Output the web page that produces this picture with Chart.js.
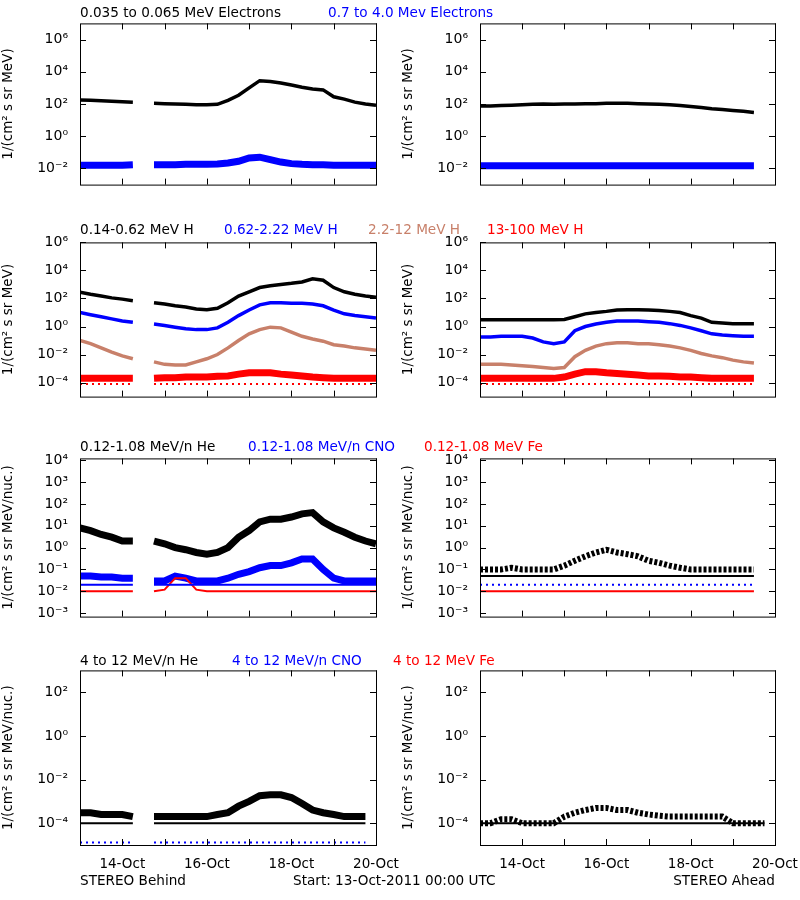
<!DOCTYPE html>
<html><head><meta charset="utf-8">
<script src="https://cdn.jsdelivr.net/npm/chart.js@4.4.0/dist/chart.umd.min.js"></script>
<style>
body{margin:0;background:#fff;width:800px;height:900px;position:relative;overflow:hidden;font-family:"DejaVu Sans",sans-serif;}
canvas{position:absolute;}
.t{position:absolute;font-size:13.6px;white-space:nowrap;}
</style></head><body>
<script>
// ---------- DATA (values every 6 hours from 13-Oct 00:00, 29 points) ----------
const HOURS = [0,6,12,18,24,30,36,42,48,54,60,66,72,78,84,90,96,102,108,114,120,126,132,138,144,150,156,162,168];
const DAY_TICKS = [24,48,72,96,120,144,168];
const DAY_LABELS = {24:"14-Oct",72:"16-Oct",120:"18-Oct",168:"20-Oct"};

// Row 1: electrons
const eLowB  = [180,170,160,150,140,130,null,110,105,100,95,90,90,95,170,350,1000,2800,2500,2000,1500,1100,850,750,280,200,130,100,85];
const eHighB = [0.016,0.016,0.016,0.016,0.016,0.017,null,0.017,0.017,0.017,0.018,0.018,0.018,0.019,0.022,0.028,0.045,0.05,0.035,0.025,0.02,0.018,0.017,0.017,0.016,0.016,0.016,0.016,0.016];
const eLowA  = [75,75,80,85,90,95,100,95,100,100,105,105,110,110,110,105,100,95,90,80,70,60,50,45,40,35,30,null,28];
const eHighA = [0.015,0.015,0.015,0.015,0.015,0.015,0.015,0.015,0.015,0.015,0.015,0.015,0.015,0.015,0.015,0.015,0.015,0.015,0.015,0.015,0.015,0.015,0.015,0.015,0.015,0.015,0.015,null,0.015];

// Row 2: protons
const h1B = [280,200,150,110,90,70,null,50,40,30,25,18,16,20,50,150,300,600,800,1000,1200,1500,2500,2000,600,300,200,150,120];
const h2B = [10,7,5,3.5,2.5,2,null,1.5,1.2,0.9,0.7,0.6,0.6,0.8,2,6,15,35,50,50,45,45,40,30,15,8,6,5,4];
const h3B = [0.1,0.06,0.03,0.015,0.008,0.005,null,0.003,0.002,0.0018,0.0018,0.003,0.005,0.01,0.03,0.1,0.3,0.6,0.9,0.8,0.4,0.2,0.13,0.09,0.05,0.04,0.03,0.025,0.02];
const h4B = [2e-4,2e-4,2e-4,2e-4,2e-4,2e-4,null,2e-4,2.2e-4,2.2e-4,2.5e-4,2.5e-4,2.5e-4,2.8e-4,3e-4,4e-4,5e-4,5e-4,5e-4,4e-4,3.5e-4,3e-4,2.5e-4,2.2e-4,2e-4,2e-4,2e-4,2e-4,2e-4];
const h4Blow = [8e-5,8e-5,8e-5,8e-5,8e-5,8e-5,null,8e-5,8e-5,8e-5,8e-5,8e-5,8e-5,8e-5,8e-5,8e-5,8e-5,8e-5,8e-5,8e-5,8e-5,8e-5,8e-5,8e-5,8e-5,8e-5,8e-5,8e-5,8e-5];
const h1A = [3,3,3,3,3,3,3,3,3.2,5,8,10,12,15,16,16,15,14,12,10,6,4,2,1.8,1.6,1.6,1.6,null,1.6];
const h2A = [0.18,0.18,0.2,0.2,0.2,0.15,0.08,0.06,0.08,0.5,1,1.5,2,2.5,2.5,2.5,2.2,2,1.6,1.2,0.8,0.5,0.3,0.25,0.22,0.2,0.2,null,0.18];
const h3A = [0.002,0.002,0.002,0.0018,0.0016,0.0014,0.0012,0.001,0.0012,0.007,0.02,0.04,0.06,0.07,0.07,0.06,0.06,0.05,0.04,0.03,0.02,0.012,0.008,0.006,0.004,0.003,0.0025,null,0.0022];
const h4A = [2e-4,2e-4,2e-4,2e-4,2e-4,2e-4,2e-4,2e-4,2.5e-4,4e-4,6e-4,6e-4,5e-4,4.5e-4,4e-4,3.5e-4,3e-4,3e-4,2.8e-4,2.5e-4,2.5e-4,2.2e-4,2e-4,2e-4,2e-4,2e-4,2e-4,null,2e-4];
const h4Alow = [8e-5,8e-5,8e-5,8e-5,8e-5,8e-5,8e-5,8e-5,8e-5,8e-5,8e-5,8e-5,8e-5,8e-5,8e-5,8e-5,8e-5,8e-5,8e-5,8e-5,8e-5,8e-5,8e-5,8e-5,8e-5,8e-5,8e-5,null,8e-5];

// Row 3: low-energy ions
const heB  = [8,6,4,3,2,2,null,2,1.5,1,0.8,0.6,0.5,0.6,1,3,6,15,20,20,25,35,40,15,8,5,3,2,1.5];
const cnoB = [0.05,0.05,0.045,0.045,0.04,0.04,null,0.03,0.03,0.05,0.04,0.03,0.03,0.03,0.04,0.06,0.08,0.12,0.15,0.15,0.2,0.3,0.3,0.1,0.04,0.03,0.03,0.03,0.03];
const cnoBrow = [0.02,0.02,0.02,0.02,0.02,0.02,null,0.02,0.02,0.02,0.02,0.02,0.02,0.02,0.02,0.02,0.02,0.02,0.02,0.02,0.02,0.02,0.02,0.02,0.02,0.02,0.02,0.02,0.02];
const feB  = [0.01,0.01,0.01,0.01,0.01,0.01,null,0.01,0.012,0.04,0.04,0.012,0.01,0.01,0.01,0.01,0.01,0.01,0.01,0.01,0.01,0.01,0.01,0.01,0.01,0.01,0.01,0.01,0.01];
const heA  = [0.1,0.1,0.1,0.12,0.1,0.1,0.1,0.1,0.15,0.25,0.4,0.6,0.8,0.6,0.5,0.4,0.25,0.2,0.15,0.12,0.1,0.1,0.1,0.1,0.1,0.1,0.1,null,0.1];
const heArow = [0.05,0.05,0.05,0.05,0.05,0.05,0.05,0.05,0.05,0.05,0.05,0.05,0.05,0.05,0.05,0.05,0.05,0.05,0.05,0.05,0.05,0.05,0.05,0.05,0.05,0.05,0.05,null,0.05];
const cnoArow = [0.02,0.02,0.02,0.02,0.02,0.02,0.02,0.02,0.02,0.02,0.02,0.02,0.02,0.02,0.02,0.02,0.02,0.02,0.02,0.02,0.02,0.02,0.02,0.02,0.02,0.02,0.02,null,0.02];
const feA  = [0.01,0.01,0.01,0.01,0.01,0.01,0.01,0.01,0.01,0.01,0.01,0.01,0.01,0.01,0.01,0.01,0.01,0.01,0.01,0.01,0.01,0.01,0.01,0.01,0.01,0.01,0.01,null,0.01];

// Row 4: high-energy ions
const he4B = [3e-4,3e-4,2.5e-4,2.5e-4,2.5e-4,2e-4,null,2e-4,2e-4,2e-4,2e-4,2e-4,2e-4,2.5e-4,3e-4,6e-4,1e-3,1.8e-3,2e-3,2e-3,1.5e-3,8e-4,4e-4,3e-4,2.5e-4,2e-4,2e-4,2e-4,null];
const he4Brow = [1e-4,1e-4,1e-4,1e-4,1e-4,1e-4,null,1e-4,1e-4,1e-4,1e-4,1e-4,1e-4,1e-4,1e-4,1e-4,1e-4,1e-4,1e-4,1e-4,1e-4,1e-4,1e-4,1e-4,1e-4,1e-4,1e-4,1e-4,null];
const cno4B = [1.3e-5,1.3e-5,1.3e-5,1.3e-5,1.3e-5,1.3e-5,null,1.3e-5,1.3e-5,1.3e-5,1.3e-5,1.3e-5,1.3e-5,1.3e-5,1.3e-5,1.3e-5,1.3e-5,1.3e-5,1.3e-5,1.3e-5,1.3e-5,1.3e-5,1.3e-5,1.3e-5,1.3e-5,1.3e-5,1.3e-5,1.3e-5,null];
const he4A = [1e-4,1e-4,1.5e-4,1.5e-4,1e-4,1e-4,1e-4,1e-4,2e-4,3e-4,4e-4,5e-4,5e-4,4e-4,4e-4,3e-4,2.5e-4,2.2e-4,2e-4,2e-4,2e-4,2e-4,2e-4,2e-4,1e-4,1e-4,1e-4,1e-4,null];
const he4Arow = [1e-4,1e-4,1e-4,1e-4,1e-4,1e-4,1e-4,1e-4,1e-4,1e-4,1e-4,1e-4,1e-4,1e-4,1e-4,1e-4,1e-4,1e-4,1e-4,1e-4,1e-4,1e-4,1e-4,1e-4,1e-4,1e-4,1e-4,1e-4,null];

// ---------- rendering ----------
const BLACK="#000", BLUE="#0000ff", BROWN="#c8806a", RED="#ff0000";
const FONT = {family:"'DejaVu Sans', sans-serif", size:12};
const sup = s => String(s).replace(/-/g,"⁻").replace(/\d/g,d=>"⁰¹²³⁴⁵⁶⁷⁸⁹"[d]);

function ser(vals,color,kind){
  const base={data:HOURS.map((h,i)=>({x:h,y:vals[i]})),borderColor:color,backgroundColor:color,pointRadius:0,spanGaps:false,tension:0};
  if(kind==='line') return {...base,borderWidth:3.5};
  if(kind==='band') return {...base,borderWidth:7};
  if(kind==='row') return {...base,borderWidth:2};
  if(kind==='dash') return {...base,borderWidth:2,borderDash:[2,4]};
  if(kind==='cloud') return {...base,borderWidth:6,borderDash:[3,2]};
  return base;
}

const frame = {id:'frame',afterDraw(c){
  const {ctx,chartArea:a}=c; ctx.save(); ctx.strokeStyle='#000'; ctx.lineWidth=1;
  ctx.strokeRect(a.left+0.5,a.top+0.5,a.right-a.left,a.bottom-a.top);
  ctx.beginPath();
  for(const t of c.scales.y.ticks){const y=Math.round(c.scales.y.getPixelForValue(t.value))+0.5;
    ctx.moveTo(a.left,y);ctx.lineTo(a.left+6,y);ctx.moveTo(a.right,y);ctx.lineTo(a.right-6,y);}
  for(const h of DAY_TICKS){const x=Math.round(c.scales.x.getPixelForValue(h))+0.5;
    ctx.moveTo(x,a.bottom);ctx.lineTo(x,a.bottom-6);ctx.moveTo(x,a.top);ctx.lineTo(x,a.top+6);}
  ctx.stroke(); ctx.restore();
}};

function panel(left,top,w,h,ymin,ymax,yticks,ytitle,datasets,bottomRow){
  const cv=document.createElement('canvas');
  const xh = bottomRow?24:0;
  const W=w+80+30, H=h+2+xh+4;
  cv.width=W; cv.height=H;
  cv.style.width=W+'px'; cv.style.height=H+'px';
  document.body.appendChild(cv);
  const ch=new Chart(cv,{type:'line',data:{datasets},plugins:[frame],options:{
    responsive:false,animation:false,devicePixelRatio:1,
    layout:{padding:{top:2,right:30,left:0,bottom:4}},
    plugins:{legend:{display:false},tooltip:{enabled:false}},
    scales:{
      x:{type:'linear',min:0,max:168,grid:{display:false},border:{display:false},
        afterBuildTicks(s){s.ticks=DAY_TICKS.map(v=>({value:v}));},
        afterFit(s){s.height=xh;},
        ticks:{display:bottomRow,maxRotation:0,autoSkip:false,color:'#000',font:{...FONT,size:13.5},padding:3,
          callback:v=>DAY_LABELS[v]||''}},
      y:{type:'logarithmic',min:ymin,max:ymax,grid:{display:false},border:{display:false},
        afterBuildTicks(s){s.ticks=yticks.map(e=>({value:Math.pow(10,e)}));},
        afterFit(s){s.width=80;},
        ticks:{color:'#000',font:{...FONT,size:14},padding:4,autoSkip:false,
          callback:v=>'10'+sup(Math.round(Math.log10(v)))},
        title:{display:true,text:ytitle,color:'#000',font:{...FONT,size:13.5},padding:0}}
    }}});
  const a=ch.chartArea;
  const H2=H+(h-(a.bottom-a.top));
  cv.style.height=H2+'px';
  ch.resize(W,H2);
  const b=ch.chartArea;
  cv.style.left=(left-b.left)+'px'; cv.style.top=(top-b.top)+'px';
}
function text(s,x,y,color,anchor){const d=document.createElement('div');d.className='t';d.textContent=s;d.style.top=(y-9)+'px';
  d.style.color=color||'#000'; if(anchor==='r'){d.style.right=(800-x)+'px';} else d.style.left=x+'px'; document.body.appendChild(d);}

const UE="1/(cm² s sr MeV)", UN="1/(cm² s sr MeV/nuc.)";
const L=80,LW=296,R=480,RW=295;
const rows=[
  {top:23,h:180,min:1e-3,max:1e7,t:[-2,0,2,4,6],u:UE,
   lb:[ser(eLowB,BLACK,'line'),ser(eHighB,BLUE,'band')], rb:[ser(eLowA,BLACK,'line'),ser(eHighA,BLUE,'band')]},
  {top:242,h:173,min:1e-5,max:1e6,t:[-4,-2,0,2,4,6],u:UE,
   lb:[ser(h1B,BLACK,'line'),ser(h2B,BLUE,'line'),ser(h3B,BROWN,'line'),ser(h4B,RED,'band'),ser(h4Blow,RED,'dash')],
   rb:[ser(h1A,BLACK,'line'),ser(h2A,BLUE,'line'),ser(h3A,BROWN,'line'),ser(h4A,RED,'band'),ser(h4Alow,RED,'dash')]},
  {top:458,h:177,min:7e-4,max:1.2e4,t:[-3,-2,-1,0,1,2,3,4],u:UN,
   lb:[ser(cnoBrow,BLUE,'row'),ser(feB,RED,'row'),ser(cnoB,BLUE,'band'),ser(heB,BLACK,'band')],
   rb:[ser(heA,BLACK,'cloud'),ser(heArow,BLACK,'row'),ser(cnoArow,BLUE,'dash'),ser(feA,RED,'row')]},
  {top:670,h:185,min:1e-5,max:1e3,t:[-4,-2,0,2],u:UN,
   lb:[ser(he4Brow,BLACK,'row'),ser(cno4B,BLUE,'dash'),ser(he4B,BLACK,'band')],
   rb:[ser(he4Arow,BLACK,'row'),ser(he4A,BLACK,'cloud')]}
];
rows.forEach((r,i)=>{
  panel(L,r.top,LW,r.h,r.min,r.max,r.t,r.u,r.lb,i===3);
  panel(R,r.top,RW,r.h,r.min,r.max,r.t,r.u,r.rb,i===3);
});

text("0.035 to 0.065 MeV Electrons",80,13);
text("0.7 to 4.0 Mev Electrons",328,13,BLUE);
text("0.14-0.62 MeV H",80,230);
text("0.62-2.22 MeV H",224,230,BLUE);
text("2.2-12 MeV H",368,230,BROWN);
text("13-100 MeV H",487,230,RED);
text("0.12-1.08 MeV/n He",80,447);
text("0.12-1.08 MeV/n CNO",248,447,BLUE);
text("0.12-1.08 MeV Fe",424,447,RED);
text("4 to 12 MeV/n He",80,661);
text("4 to 12 MeV/n CNO",232,661,BLUE);
text("4 to 12 MeV Fe",393,661,RED);
text("STEREO Behind",80,881);
text("Start: 13-Oct-2011 00:00 UTC",293,881);
text("STEREO Ahead",775,881,'#000','r');
</script>
</body></html>
